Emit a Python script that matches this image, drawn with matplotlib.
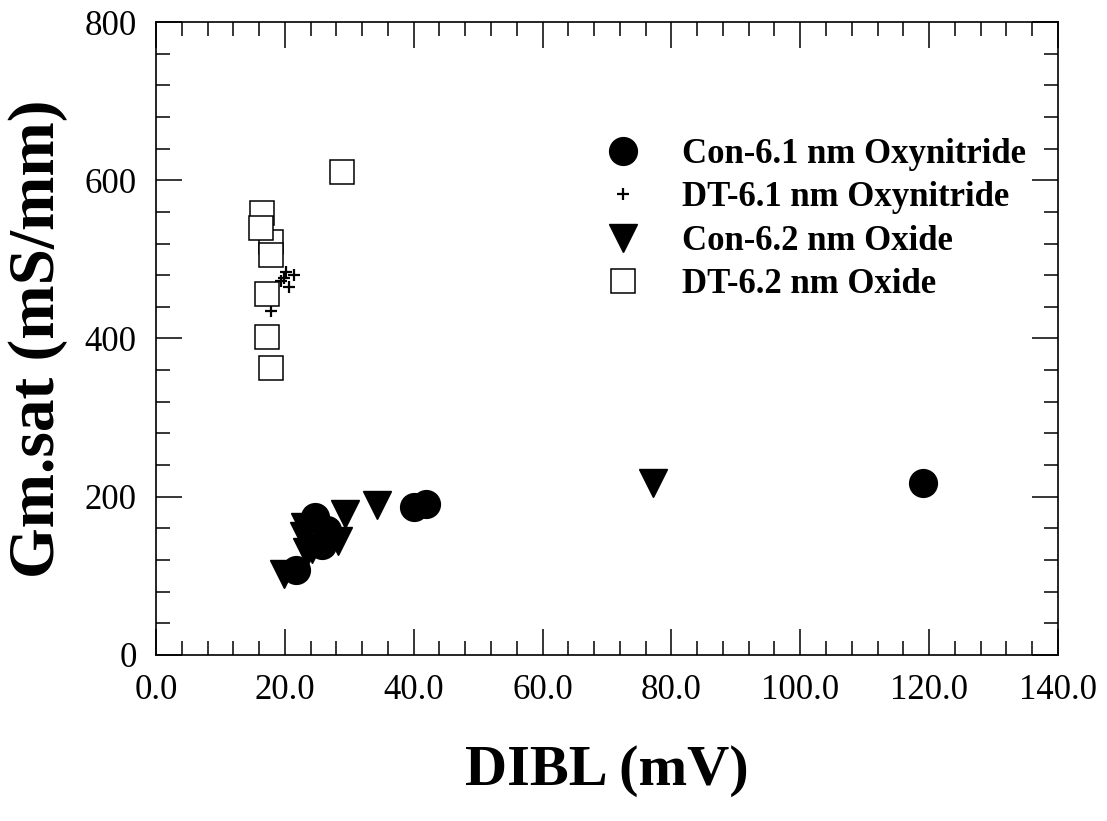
import numpy as np
import matplotlib.pyplot as plt
from matplotlib.ticker import MultipleLocator, FormatStrFormatter

plt.rcParams['font.family'] = ['Liberation Serif', 'DejaVu Serif']

# Con-6.1 nm Oxynitride (filled circles)
con_oxn_x = [21.8, 24.7, 25.7, 26.5, 40.0, 41.9, 119.0]
con_oxn_y = [108, 174, 139, 158, 187, 191, 217]

# DT-6.1 nm Oxynitride (plus)
dt_oxn_x = [20.2, 21.5, 19.8, 19.4, 20.6, 17.8]
dt_oxn_y = [484, 480, 477, 473, 465, 435]

# Con-6.2 nm Oxide (filled down triangles)
con_ox_x = [19.8, 23.1, 22.9, 23.5, 24.2, 28.3, 29.4, 34.3, 77.1]
con_ox_y = [102, 162, 151, 130, 134, 144, 178, 189, 217]

# DT-6.2 nm Oxide (open squares)
dt_ox_x = [28.9, 16.4, 17.9, 16.3, 17.9, 17.3, 17.3, 17.9]
dt_ox_y = [611, 558, 522, 540, 505, 456, 402, 363]

fig = plt.figure(figsize=(11.07, 8.21), dpi=100)
ax = fig.add_axes([0.1409, 0.2022, 0.8148, 0.7710])

ax.plot(con_oxn_x, con_oxn_y, 'o', color='black', markersize=20,
        label='Con-6.1 nm Oxynitride')
ax.plot(dt_oxn_x, dt_oxn_y, '+', color='black', markersize=8, markeredgewidth=1.6,
        label='DT-6.1 nm Oxynitride')
ax.plot(con_ox_x, con_ox_y, 'v', color='black', markersize=20,
        label='Con-6.2 nm Oxide')
ax.plot(dt_ox_x, dt_ox_y, 's', markerfacecolor='white', markeredgecolor='black',
        markersize=17, markeredgewidth=1.1, label='DT-6.2 nm Oxide')

ax.set_xlim(0, 140)
ax.set_ylim(0, 800)
ax.xaxis.set_major_locator(MultipleLocator(20))
ax.xaxis.set_minor_locator(MultipleLocator(4))
ax.yaxis.set_major_locator(MultipleLocator(200))
ax.yaxis.set_minor_locator(MultipleLocator(40))
ax.xaxis.set_major_formatter(FormatStrFormatter('%.1f'))
ax.yaxis.set_major_formatter(FormatStrFormatter('%d'))

ax.tick_params(which='both', direction='in', top=True, right=True, width=1.1)
ax.tick_params(which='major', length=19, labelsize=25, pad=14)
ax.tick_params(which='minor', length=10)
for s in ax.spines.values():
    s.set_linewidth(1.2)

ax.set_xlabel('DIBL (mV)', fontsize=42, fontweight='bold', labelpad=27)
ax.set_ylabel('Gm.sat (mS/mm)', fontsize=47, fontweight='bold', labelpad=12)

ax.legend(loc='upper left', bbox_to_anchor=(0.499, 0.817), frameon=False,
          prop={'size': 25, 'weight': 'bold'}, borderpad=0, borderaxespad=0,
          handlelength=1.0, handletextpad=1.2, labelspacing=0.3, numpoints=1)

fig.savefig('out.png', dpi=100)
